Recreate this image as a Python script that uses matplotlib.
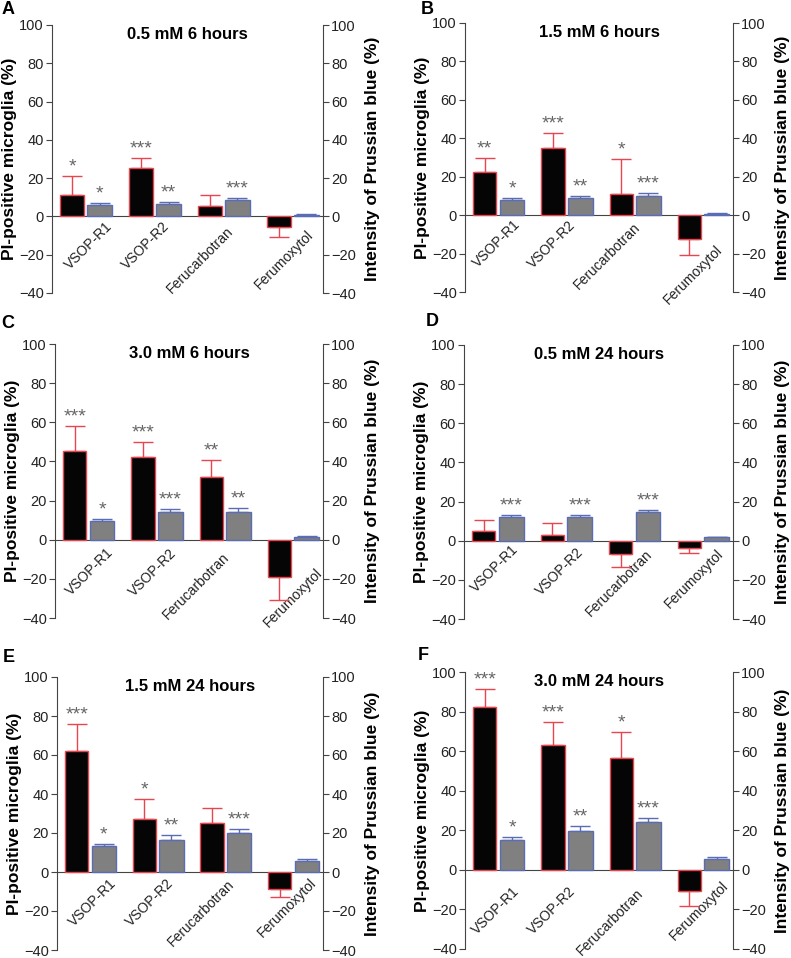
import matplotlib
matplotlib.use('Agg')
import matplotlib.pyplot as plt
import matplotlib.transforms as mtransforms
import numpy as np

plt.rcParams['font.family'] = ['Liberation Sans', 'DejaVu Sans']

categories = ['VSOP-R1', 'VSOP-R2', 'Ferucarbotran', 'Ferumoxytol']
panel_letters = ['A', 'B', 'C', 'D', 'E', 'F']
titles = ['0.5 mM 6 hours', '1.5 mM 6 hours', '3.0 mM 6 hours',
          '0.5 mM 24 hours', '1.5 mM 24 hours', '3.0 mM 24 hours']

# PI-positive microglia (%), black bars
pi_vals = [
    [11, 25.5, 5.5, -5.5],
    [22.5, 35, 11, -12.5],
    [45.5, 42.5, 32, -19],
    [5, 3, -7, -3.7],
    [62, 27, 25, -8.5],
    [82.5, 63, 56.5, -10.5],
]
pi_err = [
    [10, 5, 5.5, 5.5],
    [7, 7.5, 18, 8.5],
    [12.5, 7.5, 8.5, 12],
    [5.5, 6, 6.5, 2.8],
    [14, 10.5, 8, 4.5],
    [9, 11.5, 13, 8],
]
pi_stars = [
    ['*', '***', '', ''],
    ['**', '***', '*', ''],
    ['***', '***', '**', ''],
    ['', '', '', ''],
    ['***', '*', '', ''],
    ['***', '***', '*', ''],
]

# Intensity of Prussian blue (%), gray bars
pb_vals = [
    [6, 6.5, 8.5, 1],
    [8, 9, 10, 0.6],
    [9.8, 14, 14, 1.5],
    [12, 12, 14.5, 1.8],
    [13.5, 16.5, 20, 5.5],
    [15, 19.5, 24, 5.5],
]
pb_err = [
    [1, 0.8, 1.3, 0.4],
    [0.8, 1, 1.3, 0.3],
    [1, 1.7, 2.2, 0.6],
    [1, 1, 1.2, 0.3],
    [1, 2.4, 1.8, 1],
    [1.5, 2.6, 2.2, 0.8],
]
pb_stars = [
    ['*', '**', '***', ''],
    ['*', '**', '***', ''],
    ['*', '***', '**', ''],
    ['***', '***', '***', ''],
    ['*', '**', '***', ''],
    ['*', '**', '***', ''],
]

# axes rectangles in pixels: left, top, right, bottom
rects_px = [
    (52, 25, 323, 293), (465, 23, 733, 292),
    (55, 344, 323, 618), (464, 345, 733, 619),
    (57, 677, 323, 950), (465, 672, 733, 949),
]
letter_px = [(8, 10), (427, 9), (8, 323), (432, 321), (9, 658), (423, 655)]
# category label shifts in px (right of group centre / below zero line)
label_dx = [
    [29, 17, 12, 24],
    [25, 12, 8, 22],
    [28, 23, 7, 32],
    [23, 20, 21, 23],
    [29, 18, 12, 26],
    [24, 12, 11, 28],
]
label_drop = [
    [3, 3, 8, 11],
    [2, 3, 5, 28],
    [6, 6, 10, 26],
    [2, 4, 6, 6],
    [4, 4, 5, 4],
    [14, 14, 16, 9],
]

W, H = 791, 958
fig = plt.figure(figsize=(W / 100, H / 100), dpi=100)

spine_col = '#444444'
red = '#e8454f'
blue = '#5a6cb4'
yt = list(range(-40, 101, 20))
ytl = ['\u221240', '\u221220', '0', '20', '40', '60', '80', '100']

for k in range(6):
    l, t, r, b = rects_px[k]
    ax = fig.add_axes([l / W, 1 - b / H, (r - l) / W, (b - t) / H])
    x = np.arange(4)
    pv = np.array(pi_vals[k])
    pe = np.array(pi_err[k])
    gv = np.array(pb_vals[k])
    ge = np.array(pb_err[k])
    xb = x - 0.2
    xg = x + 0.2
    ax.bar(xb, pv, 0.34, color='#050505', edgecolor=red, linewidth=1, zorder=3)
    ax.bar(xg, gv, 0.36, color='#808080', edgecolor=blue, linewidth=1, zorder=3)
    # error bars only on the side the bar points to
    lo = np.where(pv < 0, pe, 0)
    hi = np.where(pv >= 0, pe, 0)
    ax.errorbar(xb, pv, yerr=[lo, hi], fmt='none', ecolor=red, elinewidth=1,
                capsize=7, capthick=1, zorder=2)
    ax.errorbar(xg, gv, yerr=[np.zeros(4), ge], fmt='none', ecolor=blue,
                elinewidth=1, capsize=7, capthick=1, zorder=2)
    for i in range(4):
        if pi_stars[k][i]:
            ax.text(xb[i], pv[i] + pe[i] + 0.3, pi_stars[k][i], ha='center',
                    va='bottom', fontsize=14, color='#666666')
        if pb_stars[k][i]:
            ax.text(xg[i], gv[i] + ge[i] + 0.3, pb_stars[k][i], ha='center',
                    va='bottom', fontsize=14, color='#666666')

    ax.set_xlim(-0.49, 3.44)
    ax.set_ylim(-40, 100)
    ax.set_yticks(yt)
    ax.set_yticklabels(ytl)
    ax.spines['top'].set_visible(False)
    ax.spines['right'].set_visible(False)
    ax.spines['bottom'].set_position(('data', 0))
    ax.spines['bottom'].set_color(spine_col)
    ax.spines['left'].set_color(spine_col)
    ax.set_xticks(x)
    ax.tick_params(axis='x', length=0, pad=0)
    ax.tick_params(axis='y', length=4, color=spine_col, labelsize=10.5,
                   labelcolor='#222222', pad=2)
    ax.set_xticklabels(categories, rotation=45, ha='right', fontsize=10,
                       color='#222222')
    for i, lab in enumerate(ax.get_xticklabels()):
        off = mtransforms.ScaledTranslation(label_dx[k][i] / 100,
                                            -label_drop[k][i] / 100,
                                            fig.dpi_scale_trans)
        lab.set_transform(lab.get_transform() + off)
    ax.set_ylabel('PI-positive microglia (%)', fontsize=12.5, fontweight='bold',
                  labelpad=1)
    ax.text(0.5, 0.993, titles[k], transform=ax.transAxes, ha='center', va='top',
            fontsize=12, fontweight='bold')

    ax2 = ax.twinx()
    ax2.set_ylim(-40, 100)
    ax2.set_yticks(yt)
    ax2.set_yticklabels(ytl)
    for s in ['top', 'left', 'bottom']:
        ax2.spines[s].set_visible(False)
    ax2.spines['right'].set_color(spine_col)
    ax2.tick_params(axis='y', length=4, color=spine_col, labelsize=10.5,
                    labelcolor='#222222', pad=2)
    ax2.set_ylabel('Intensity of Prussian blue (%)', fontsize=12.5,
                   fontweight='bold', labelpad=6)

    lx, ly = letter_px[k]
    fig.text(lx / W, 1 - ly / H, panel_letters[k], ha='center', va='center',
             fontsize=13, fontweight='bold')

fig.savefig('out.png', dpi=100)
